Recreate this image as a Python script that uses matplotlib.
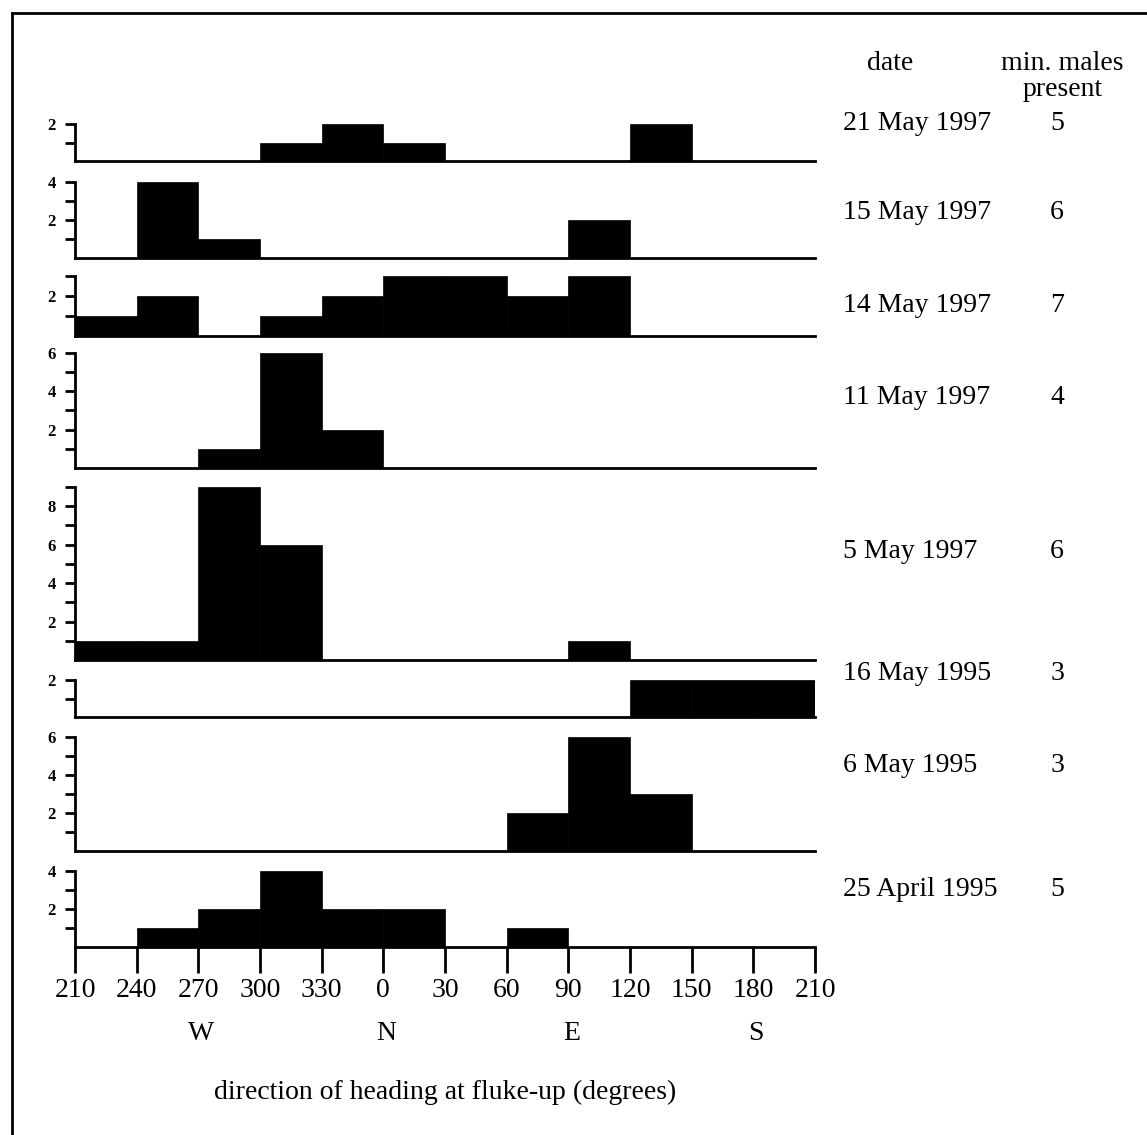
import matplotlib
matplotlib.use("Agg")
import matplotlib.pyplot as plt
from matplotlib.lines import Line2D

plt.rcParams['font.family'] = ['Liberation Serif', 'DejaVu Serif']

# ---- data ----
tick_labels = ["210", "240", "270", "300", "330", "0", "30", "60", "90", "120", "150", "180", "210"]
compass = ["W", "N", "E", "S"]
compass_deg = [270, 0, 90, 180]
dates = ["21 May 1997", "15 May 1997", "14 May 1997", "11 May 1997",
         "5 May 1997", "16 May 1995", "6 May 1995", "25 April 1995"]
min_males = [5, 6, 7, 4, 6, 3, 3, 5]
counts_21may97 = [0, 0, 0, 1, 2, 1, 0, 0, 0, 2, 0, 0]
counts_15may97 = [0, 4, 1, 0, 0, 0, 0, 0, 2, 0, 0, 0]
counts_14may97 = [1, 2, 0, 1, 2, 3, 3, 2, 3, 0, 0, 0]
counts_11may97 = [0, 0, 1, 6, 2, 0, 0, 0, 0, 0, 0, 0]
counts_05may97 = [1, 1, 9, 6, 0, 0, 0, 0, 1, 0, 0, 0]
counts_16may95 = [0, 0, 0, 0, 0, 0, 0, 0, 0, 2, 2, 2]
counts_06may95 = [0, 0, 0, 0, 0, 0, 0, 2, 6, 3, 0, 0]
counts_25apr95 = [0, 1, 2, 4, 2, 2, 0, 1, 0, 0, 0, 0]
panel_counts = [counts_21may97, counts_15may97, counts_14may97, counts_11may97,
                counts_05may97, counts_16may95, counts_06may95, counts_25apr95]
panel_ymax = [2, 4, 3, 6, 9, 2, 6, 4]

# ---- layout (pixels) ----
W, H = 1147, 1135
fig = plt.figure(figsize=(W / 100, H / 100), dpi=100)
panel_top = [124, 182, 276, 353, 487, 680, 737, 871]
panel_base = [161, 258, 336, 468, 660, 717, 851, 947]
date_y = [124, 213, 306, 398, 551, 674, 766, 889]
x_left, x_right = 75, 815
FS = 20

def fx(px):
    return px / W

def fy(py):
    return 1 - py / H

edges = [30 * i for i in range(12)]  # offsets from 210 degrees

axes = []
for i, counts in enumerate(panel_counts):
    top, base = panel_top[i], panel_base[i]
    ax = fig.add_axes([fx(x_left), fy(base), fx(x_right) - fx(x_left), (base - top) / H])
    ax.bar(edges, counts, width=30, align='edge', color='black', edgecolor='black', linewidth=0.5)
    ax.set_xlim(0, 360)
    ax.set_ylim(0, panel_ymax[i])
    for s in ['top', 'right']:
        ax.spines[s].set_visible(False)
    ax.spines['left'].set_linewidth(2)
    ax.spines['bottom'].set_linewidth(2)
    ax.set_yticks(range(1, panel_ymax[i] + 1))
    ax.set_yticklabels([str(v) if v % 2 == 0 else "" for v in range(1, panel_ymax[i] + 1)],
                       fontsize=12, fontweight='bold')
    ax.tick_params(axis='y', direction='out', length=7, width=2, pad=7)
    ax.patch.set_alpha(0)
    if i < len(panel_counts) - 1:
        ax.set_xticks([])
    else:
        ax.set_xticks([30 * k for k in range(13)])
        ax.set_xticklabels(tick_labels, fontsize=FS)
        ax.tick_params(axis='x', direction='out', length=19, width=2, pad=3)
    axes.append(ax)

# compass labels
for lab, deg in zip(compass, compass_deg):
    xpos = x_left + (x_right - x_left) * ((deg - 210) % 360) / 360
    fig.text(fx(xpos + 3), fy(1033), lab, ha='center', va='center', fontsize=FS)

fig.text(fx(445), fy(1092), "direction of heading at fluke-up (degrees)",
         ha='center', va='center', fontsize=FS)

# right-hand labels
fig.text(fx(890), fy(63), "date", ha='center', va='center', fontsize=FS)
fig.text(fx(1062), fy(63), "min. males", ha='center', va='center', fontsize=FS)
fig.text(fx(1063), fy(90), "present", ha='center', va='center', fontsize=FS)
for d, n, y in zip(dates, min_males, date_y):
    fig.text(fx(843), fy(y), d, ha='left', va='center', fontsize=FS)
    fig.text(fx(1057), fy(y), str(n), ha='center', va='center', fontsize=FS)

# frame
fig.add_artist(Line2D([fx(12), fx(12)], [fy(13), fy(H)], color='black', lw=2))
fig.add_artist(Line2D([fx(12), fx(W)], [fy(13), fy(13)], color='black', lw=2))

fig.savefig("out.png", dpi=100)
